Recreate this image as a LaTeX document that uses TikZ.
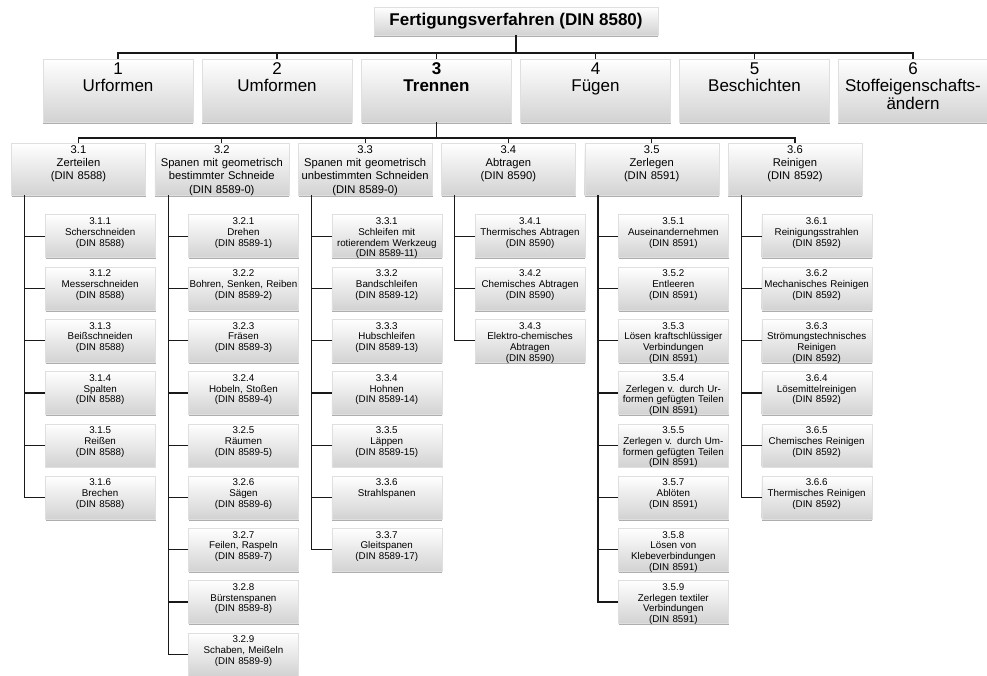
\documentclass[tikz,border=0pt]{standalone}
\usepackage{fontspec}
\setmainfont{Liberation Sans}
\usetikzlibrary{shadows}
\begin{document}
\begin{tikzpicture}[x=1pt,y=-1pt]
\tikzset{
  boxbase/.style={top color=white, middle color=white, bottom color=gray!35,
    draw=gray!25, line width=0.3pt, inner sep=0pt, align=center,
    drop shadow={shadow xshift=0.4pt, shadow yshift=-1.6pt, opacity=0.45, fill=black!70}},
  titlebox/.style={boxbase, minimum width=284pt, minimum height=28pt,
    font=\fontsize{17}{20}\selectfont\bfseries},
  lvlone/.style={boxbase, text width=150pt, text height=15pt, text depth=48pt,
    font=\fontsize{17}{17.5}\selectfont, anchor=north},
  lvltwo/.style={boxbase, text width=134pt, text height=10pt, text depth=42pt,
    font=\fontsize{11.2}{13.3}\selectfont, anchor=north},
  lvlthree/.style={boxbase, text width=110pt, text height=10pt, text depth=33pt,
    font=\fontsize{9.8}{10.7}\selectfont, anchor=north west},
  conn/.style={draw=black!90, line width=1.2pt}
}
\useasboundingbox (0,0) rectangle (987,676);

% title
\node[titlebox] (top) at (516,21) {Fertigungsverfahren (DIN 8580)};

% level 1
\node[lvlone] (a1) at (118,59)   {1\\Urformen};
\node[lvlone] (a2) at (277,59)   {2\\Umformen};
\node[lvlone] (a3) at (436.5,59) {\textbf{3}\\\textbf{Trennen}};
\node[lvlone] (a4) at (595.5,59) {4\\Fügen};
\node[lvlone] (a5) at (754.5,59) {5\\Beschichten};
\node[lvlone] (a6) at (913,59)   {6\\Stoffeigenschafts-\\ändern};

% level 2
\node[lvltwo] (b1) at (78.5,143)  {3.1\\Zerteilen\\(DIN 8588)};
\node[lvltwo] (b2) at (221.8,143) {3.2\\Spanen mit geometrisch\\bestimmter Schneide\\(DIN 8589-0)};
\node[lvltwo] (b3) at (365.1,143) {3.3\\Spanen mit geometrisch\\unbestimmten Schneiden\\(DIN 8589-0)};
\node[lvltwo] (b4) at (508.4,143) {3.4\\Abtragen\\(DIN 8590)};
\node[lvltwo] (b5) at (651.7,143) {3.5\\Zerlegen\\(DIN 8591)};
\node[lvltwo] (b6) at (795,143)   {3.6\\Reinigen\\(DIN 8592)};

% level 3
\foreach \t [count=\j] in {
  {3.1.1\\Scherschneiden\\(DIN 8588)},
  {3.1.2\\Messerschneiden\\(DIN 8588)},
  {3.1.3\\Beißschneiden\\(DIN 8588)},
  {3.1.4\\Spalten\\(DIN 8588)},
  {3.1.5\\Reißen\\(DIN 8588)},
  {3.1.6\\Brechen\\(DIN 8588)}}
  \node[lvlthree] (c1-\j) at (45,214.5+52.25*\j-52.25) {\t};

\foreach \t [count=\j] in {
  {3.2.1\\Drehen\\(DIN 8589-1)},
  {3.2.2\\Bohren, Senken, Reiben\\(DIN 8589-2)},
  {3.2.3\\Fräsen\\(DIN 8589-3)},
  {3.2.4\\Hobeln, Stoßen\\(DIN 8589-4)},
  {3.2.5\\Räumen\\(DIN 8589-5)},
  {3.2.6\\Sägen\\(DIN 8589-6)},
  {3.2.7\\Feilen, Raspeln\\(DIN 8589-7)},
  {3.2.8\\Bürstenspanen\\(DIN 8589-8)},
  {3.2.9\\Schaben, Meißeln\\(DIN 8589-9)}}
  \node[lvlthree] (c2-\j) at (188.3,214.5+52.25*\j-52.25) {\t};

\foreach \t [count=\j] in {
  {3.3.1\\Schleifen mit\\rotierendem Werkzeug\\(DIN 8589-11)},
  {3.3.2\\Bandschleifen\\(DIN 8589-12)},
  {3.3.3\\Hubschleifen\\(DIN 8589-13)},
  {3.3.4\\Hohnen\\(DIN 8589-14)},
  {3.3.5\\Läppen\\(DIN 8589-15)},
  {3.3.6\\Strahlspanen},
  {3.3.7\\Gleitspanen\\(DIN 8589-17)}}
  \node[lvlthree] (c3-\j) at (331.6,214.5+52.25*\j-52.25) {\t};

\foreach \t [count=\j] in {
  {3.4.1\\Thermisches Abtragen\\(DIN 8590)},
  {3.4.2\\Chemisches Abtragen\\(DIN 8590)},
  {3.4.3\\Elektro-chemisches\\Abtragen\\(DIN 8590)}}
  \node[lvlthree] (c4-\j) at (474.9,214.5+52.25*\j-52.25) {\t};

\foreach \t [count=\j] in {
  {3.5.1\\Auseinandernehmen\\(DIN 8591)},
  {3.5.2\\Entleeren\\(DIN 8591)},
  {3.5.3\\Lösen kraftschlüssiger\\Verbindungen\\(DIN 8591)},
  {3.5.4\\Zerlegen v. durch Ur-\\formen gefügten Teilen\\(DIN 8591)},
  {3.5.5\\Zerlegen v. durch Um-\\formen gefügten Teilen\\(DIN 8591)},
  {3.5.7\\Ablöten\\(DIN 8591)},
  {3.5.8\\Lösen von\\Klebeverbindungen\\(DIN 8591)},
  {3.5.9\\Zerlegen textiler\\Verbindungen\\(DIN 8591)}}
  \node[lvlthree] (c5-\j) at (618.2,214.5+52.25*\j-52.25) {\t};

\foreach \t [count=\j] in {
  {3.6.1\\Reinigungsstrahlen\\(DIN 8592)},
  {3.6.2\\Mechanisches Reinigen\\(DIN 8592)},
  {3.6.3\\Strömungstechnisches\\Reinigen\\(DIN 8592)},
  {3.6.4\\Lösemittelreinigen\\(DIN 8592)},
  {3.6.5\\Chemisches Reinigen\\(DIN 8592)},
  {3.6.6\\Thermisches Reinigen\\(DIN 8592)}}
  \node[lvlthree] (c6-\j) at (761.5,214.5+52.25*\j-52.25) {\t};

% connectors: title -> level 1
\draw[conn] (top.south) -- ++(0,18);
\draw[conn] (a1.north) -- ++(0,-6) -| (a6.north);
\foreach \i in {2,...,5}
  \draw[conn] (a\i.north) -- ++(0,-6);
% Trennen -> level 2
\draw[conn] (a3.south) -- ++(0,16);
\draw[conn] (b1.north) -- ++(0,-5) -| (b6.north);
\foreach \i in {2,...,5}
  \draw[conn] (b\i.north) -- ++(0,-5);
% level 2 -> level 3
\foreach \c/\n in {1/6,2/9,3/7,4/3,5/8,6/6}{
  \draw[conn] ([xshift=13.5pt]b\c.south west) |- (c\c-\n.west);
  \pgfmathtruncatemacro{\m}{\n-1}
  \foreach \j in {1,...,\m}
    \draw[conn] ([xshift=13.5pt]b\c.south west |- c\c-\j.west) -- (c\c-\j.west);
}
\end{tikzpicture}
\end{document}
